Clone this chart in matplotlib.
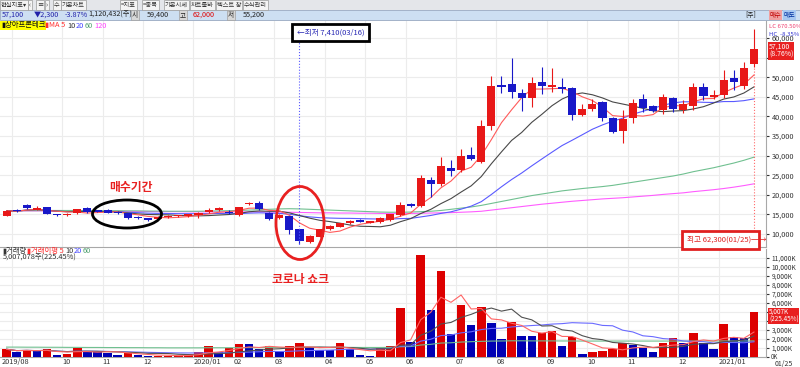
import numpy as np
import pandas as pd
import matplotlib
matplotlib.use('Agg')
import matplotlib.pyplot as plt
from matplotlib.patches import Rectangle, Ellipse

plt.rcParams['font.family'] = ['Noto Sans CJK KR', 'DejaVu Sans']

# weekly candles, 2019-08-26 .. 2021-01-25
dates = pd.date_range('2019-08-26', '2021-01-25', freq='W-MON')
opens = [14700, 16000, 17400, 16200, 16900, 15000, 14900, 15300, 16550, 15900,
         16100, 15700, 15280, 14250, 14000, 13825, 14250, 14500, 14600, 14850,
         15530, 16100, 15700, 14850, 17570, 17800, 15430, 14160, 14600, 11270,
         7900, 9320, 11200, 11870, 12720, 13570, 12900, 13140, 13570, 14850,
         17570, 17200, 23770, 22750, 26900, 26300, 30100, 28430, 37600, 48000,
         48200, 45870, 44600, 48700, 47600, 47600, 47200, 40350, 41800, 43740,
         39660, 36350, 39500, 44350, 42700, 41600, 44600, 41600, 42650, 47400,
         45000, 45450, 49700, 47750, 53300]
highs = [16200, 16300, 17600, 17100, 17000, 15200, 15300, 16500, 16800, 16100,
         16300, 15900, 15400, 14500, 14200, 14500, 14800, 14900, 15200, 15600,
         16600, 17000, 16000, 17000, 18200, 18300, 15600, 15000, 14700, 11300,
         9700, 11400, 12300, 12900, 13600, 13800, 13400, 14300, 15200, 18100,
         17900, 25000, 24600, 29700, 28900, 31600, 32100, 39100, 50400, 50400,
         55000, 46900, 50100, 52500, 52300, 49700, 47600, 43200, 44400, 44000,
         39900, 41600, 44350, 45600, 43000, 45700, 45000, 44200, 48400, 48400,
         46800, 51800, 51800, 53800, 62300]
lows = [14500, 15600, 16400, 16100, 15000, 14600, 14700, 15100, 15300, 15500,
        15300, 15100, 13800, 13900, 13400, 13700, 14100, 14300, 14400, 14000,
        15300, 15900, 15100, 14600, 17300, 16000, 13500, 13900, 10000, 7410,
        7700, 9200, 11000, 11700, 12500, 13000, 12700, 12900, 13400, 14700,
        16900, 16900, 19500, 22300, 24850, 25800, 28800, 28000, 36500, 45900,
        44800, 41450, 42400, 45600, 46300, 46000, 39200, 40200, 41500, 38800,
        35800, 33300, 38240, 41200, 41000, 40550, 41000, 40800, 41630, 44200,
        44500, 44800, 46740, 47100, 52700]
closes = [15900, 15800, 16600, 16700, 15100, 14800, 15000, 16300, 15530, 15700,
          15430, 15280, 14000, 14100, 13600, 14335, 14600, 14650, 15000, 15280,
          16100, 16700, 15300, 16800, 17980, 16300, 13750, 14850, 11000, 8300,
          9490, 11200, 12040, 12720, 13300, 13140, 13200, 14000, 15000, 17400,
          17140, 24200, 22750, 27340, 26070, 29900, 29100, 37600, 47800, 47600,
          46300, 44600, 48600, 47800, 48000, 46900, 40350, 41900, 43150, 39500,
          36100, 39250, 43300, 42200, 41430, 45000, 41800, 43070, 47400, 45200,
          45450, 49300, 48700, 52300, 57100]
ma60 = [15900, 15900, 15950, 15950, 16000, 16000, 16000, 16000, 16000, 16000,
        15950, 15950, 15900, 15900, 15850, 15850, 15800, 15800, 15800, 15800,
        15850, 15900, 15950, 16000, 16100, 16200, 16300, 16400, 16450, 16400,
        16300, 16200, 16100, 16000, 15900, 15800, 15700, 15600, 15550, 15550,
        15600, 15700, 15800, 16000, 16300, 16600, 16900, 17300, 17800, 18300,
        18800, 19300, 19800, 20200, 20600, 21000, 21300, 21600, 21850, 22100,
        22400, 22800, 23200, 23600, 24000, 24400, 24800, 25300, 25900, 26400,
        26900, 27500, 28100, 28800, 29600]
ma120 = [15900, 15900, 15900, 15900, 15900, 15900, 15850, 15850, 15850, 15850,
         15800, 15800, 15800, 15750, 15750, 15700, 15700, 15700, 15650, 15650,
         15650, 15650, 15650, 15650, 15650, 15650, 15600, 15600, 15550, 15500,
         15450, 15400, 15400, 15350, 15350, 15300, 15300, 15250, 15250, 15250,
         15250, 15300, 15350, 15400, 15450, 15550, 15650, 15800, 16100, 16400,
         16700, 17000, 17300, 17600, 17850, 18100, 18350, 18550, 18750, 18950,
         19100, 19250, 19450, 19650, 19850, 20100, 20300, 20500, 20800, 21050,
         21300, 21600, 21950, 22350, 22800]
# volume in thousand shares
volumes = [860, 560, 780, 630, 860, 220, 300, 960, 670, 520,
           480, 220, 410, 190, 110, 140, 150, 160, 300, 520,
           1220, 590, 960, 1440, 1400, 890, 1220, 590, 1220, 1520,
           1070, 780, 740, 1520, 860, 220, 110, 1070, 1220, 5400,
           1700, 11330, 5220, 9560, 2560, 5780, 3560, 5520, 3740, 2000,
           3930, 2330, 2300, 2700, 2890, 1220, 2260, 300, 590, 700,
           890, 1520, 1330, 1030, 590, 1520, 2150, 1590, 2700, 1520,
           890, 3630, 2190, 2150, 5007]
vol_ma60 = [1100, 1100, 1090, 1090, 1080, 1080, 1070, 1070, 1060, 1060,
            1050, 1050, 1040, 1040, 1030, 1030, 1020, 1020, 1020, 1020,
            1030, 1030, 1030, 1040, 1040, 1040, 1050, 1050, 1050, 1060,
            1060, 1060, 1060, 1070, 1070, 1060, 1060, 1060, 1070, 1140,
            1160, 1330, 1410, 1550, 1580, 1660, 1700, 1740, 1770, 1780,
            1800, 1800, 1790, 1790, 1790, 1780, 1780, 1770, 1770, 1770,
            1770, 1770, 1770, 1770, 1770, 1770, 1770, 1770, 1775, 1775,
            1775, 1780, 1780, 1780, 1785]

price_ticks = list(range(10000, 60001, 5000))
vol_ticks = list(range(0, 11001, 1000))
# tick labels hidden under the current-value boxes
price_hidden = [55000]
vol_hidden = [0, 4000, 5000]

RED = '#e81818'
BLUE = '#1818c8'
VRED = '#dd0000'
VBLUE = '#0000b4'
GRID = '#ececec'

W, H = 800, 367
def fx(px):
    return px / W
def fy(py):
    return 1 - py / H

fig = plt.figure(figsize=(8, 3.67), dpi=100)
ax = fig.add_axes([0, fy(247), 766 / W, (247 - 21) / H])
axv = fig.add_axes([0, fy(357), 766 / W, (357 - 249) / H])

n = len(closes)
idx = np.arange(n)
o = np.array(opens); hi = np.array(highs); lo = np.array(lows); c = np.array(closes)
v = np.array(volumes)

# month grid positions
month_pos = []
month_lab = []
for i in range(1, n):
    if dates[i].month != dates[i - 1].month:
        month_pos.append(i - 0.5)
        if dates[i].month == 1:
            month_lab.append(dates[i].strftime('%Y/%m'))
        else:
            month_lab.append(dates[i].strftime('%m'))
grid_pos = month_pos[:]
tick_pos = [-0.5] + month_pos[1:]
tick_lab = [dates[0].strftime('%Y/%m')] + month_lab[1:]

for a in (ax, axv):
    a.set_xlim(-0.653, 75.19)
    for gx in grid_pos:
        a.axvline(gx, color=GRID, lw=0.8, zorder=0)
    for s in ('top', 'left'):
        a.spines[s].set_visible(False)
    for s in ('right', 'bottom'):
        a.spines[s].set_color('#a8a8a8')
        a.spines[s].set_linewidth(0.8)

# price panel
ax.set_ylim(6684, 64336)
for py in price_ticks:
    ax.axhline(py, color=GRID, lw=0.8, zorder=0)
up = c >= o
col = np.where(up, RED, BLUE)
ax.vlines(idx, lo, hi, colors=col, lw=0.8, zorder=3)
ax.bar(idx, np.maximum(np.abs(c - o), 300), bottom=np.minimum(o, c), width=0.8,
       color=col, linewidth=0, zorder=4)
cs = pd.Series(closes)
ax.plot(idx, ma120, color='#ff5cff', lw=0.8, zorder=2)
ax.plot(idx, ma60, color='#70c090', lw=0.8, zorder=2)
ax.plot(idx, cs.rolling(20, min_periods=1).mean(), color='#5a5aff', lw=0.8, zorder=2)
ax.plot(idx, cs.rolling(10, min_periods=1).mean(), color='#484848', lw=0.8, zorder=2)
ax.plot(idx, cs.rolling(5, min_periods=1).mean(), color='#ff5a5a', lw=0.8, zorder=2)
ax.yaxis.tick_right()
ax.set_yticks(price_ticks)
ax.set_yticklabels(['' if t in price_hidden else '{:,}'.format(t) for t in price_ticks])
ax.tick_params(axis='y', labelsize=5.3, length=2, pad=2, colors='#333333')
ax.set_xticks([])

# lowest / highest markers
ilow = int(np.argmin(lo))
ax.vlines(ilow, lo[ilow], 10000 + (234 - 33) * 255.1, colors='#5a5aff', lw=0.8,
          linestyles=':', zorder=5)
ihigh = int(np.argmax(hi))
ax.vlines(ihigh, 10000 - (240 - 234) * 255.1, lo[ihigh], colors='#ff6a6a', lw=0.8,
          linestyles=':', zorder=5)

# volume panel
axv.set_ylim(0, 12000)
for vy in vol_ticks:
    axv.axhline(vy, color=GRID, lw=0.8, zorder=0)
vcol = [VRED] + [VRED if v[i] > v[i - 1] else VBLUE for i in range(1, n)]
axv.bar(idx, v, width=0.84, color=vcol, linewidth=0, zorder=3)
vs = pd.Series(volumes)
axv.plot(idx, vol_ma60, color='#70c090', lw=0.8, zorder=4)
axv.plot(idx, vs.rolling(20, min_periods=1).mean(), color='#6a6aff', lw=0.8, zorder=4)
axv.plot(idx, vs.rolling(10, min_periods=1).mean(), color='#505050', lw=0.8, zorder=4)
axv.plot(idx, vs.rolling(5, min_periods=1).mean(), color='#ff6464', lw=0.8, zorder=4)
axv.yaxis.tick_right()
axv.set_yticks(vol_ticks)
axv.set_yticklabels(['' if t in vol_hidden else '{:,}K'.format(t) for t in vol_ticks])
axv.tick_params(axis='y', labelsize=4.8, length=2, pad=2, colors='#333333')
axv.set_xticks(tick_pos)
axv.set_xticklabels(tick_lab, ha='left')
axv.tick_params(axis='x', labelsize=5.3, length=0, pad=1, colors='#333333')
# zero label sits just above the date strip
fig.text(fx(771), fy(356.6), '0K', fontsize=4.4, va='center', color='#333333')

# header bars
fig.add_artist(Rectangle((0, fy(10)), 1, 10 / H, transform=fig.transFigure,
                         facecolor='#e4e6ea', edgecolor='none'))
fig.add_artist(Rectangle((0, fy(20)), 1, 10 / H, transform=fig.transFigure,
                         facecolor='#cddff2', edgecolor='#98a8c0', lw=0.6))
buttons = [(1, '현실지표▾'), (29, '‹'), (37, '≡'), (46, '›'), (54, '수'),
           (62, '기본차트'), (121, '=지표'), (143, '=종목'), (165, '기본시세'),
           (191, '차트툴바'), (217, '텍스트 창'), (244, '수식관리')]
for bx, bt in buttons:
    fig.text(fx(bx), fy(5), bt, fontsize=4.5, va='center', ha='left', color='#333333',
             bbox=dict(boxstyle='square,pad=0.12', fc='#f4f4f4', ec='#9a9a9a', lw=0.5))
row2 = [(2, '57,100', '#2020a8'), (34, '▼2,300', '#2020a8'), (65, '-3.87%', '#2020a8'),
        (88, '1,120,432(주)', '#222222'), (147, '59,400', '#222222'),
        (193, '62,000', '#e00000'), (243, '55,200', '#222222')]
for tx, tt, tc in row2:
    fig.text(fx(tx), fy(15), tt, fontsize=5.2, va='center', ha='left', color=tc)
for tx, tt in [(132, '시'), (180, '고'), (228, '저')]:
    fig.text(fx(tx), fy(15), tt, fontsize=4.8, va='center', ha='left', color='#222222',
             bbox=dict(boxstyle='square,pad=0.2', fc='#d8d8d8', ec='#a0a0a0', lw=0.5))
fig.text(fx(745), fy(15), '[주]', fontsize=4.8, va='center', color='#222222')
fig.text(fx(770), fy(15), '매수', fontsize=4.6, va='center', color='#c00000',
         bbox=dict(boxstyle='square,pad=0.1', fc='#f0a0a0', ec='none'))
fig.text(fx(784), fy(15), '매도', fontsize=4.6, va='center', color='#0030a0',
         bbox=dict(boxstyle='square,pad=0.1', fc='#a8c8f0', ec='none'))

# price legend
fig.text(fx(1), fy(25.5), '▮상아프론테크', fontsize=5.3, va='center', color='#111111',
         bbox=dict(boxstyle='square,pad=0.1', fc='#ffff00', ec='none'))
for lx, lt, lc in [(45, '▮MA 5', '#ff3030'), (67, '10', '#333333'), (76, '20', '#4040ff'),
                   (85, '60', '#50a070'), (94, '120', '#ff40ff')]:
    fig.text(fx(lx), fy(25.5), lt, fontsize=5.3, va='center', color=lc)

# volume legend
fig.text(fx(2), fy(251), '▮거래량', fontsize=5.3, va='center', color='#333333')
for lx, lt, lc in [(27, '▮거래이평 5', '#ff3030'), (65, '10', '#333333'),
                   (74, '20', '#4040ff'), (83, '60', '#50a070')]:
    fig.text(fx(lx), fy(251), lt, fontsize=5.3, va='center', color=lc)
fig.text(fx(3), fy(257.5), '5,007,078주(225.45%)', fontsize=5.3, va='center',
         color='#333333')

# right side info
fig.text(fx(769), fy(27), 'LC 670.50%', fontsize=4.3, va='center', color='#f04070')
fig.text(fx(769), fy(34), 'HC  -8.35%', fontsize=4.3, va='center', color='#3030d0')
fig.text(fx(769), fy(51), '57,100\n(8.76%)', fontsize=5, va='center', ha='left',
         color='white', linespacing=0.95,
         bbox=dict(boxstyle='square,pad=0.12', fc='#e82020', ec='none'))
fig.text(fx(769), fy(316), '5,007K\n(225.45%)', fontsize=4.6, va='center', ha='left',
         color='white', linespacing=0.95,
         bbox=dict(boxstyle='square,pad=0.08', fc='#e82020', ec='none'))
fig.text(fx(775), fy(364), '01/25', fontsize=5, va='center', color='#333333')

# annotation boxes
fig.add_artist(Rectangle((fx(292), fy(41)), 77 / W, 17 / H, transform=fig.transFigure,
                         facecolor='white', edgecolor='black', lw=2, zorder=6))
fig.text(fx(297), fy(32.5), '←최저 7,410(03/16)', fontsize=5.5, va='center',
         color='#2828b4', zorder=7)
fig.add_artist(Rectangle((fx(682), fy(249)), 77 / W, 18 / H, transform=fig.transFigure,
                         facecolor='white', edgecolor='#e02020', lw=2, zorder=6))
fig.text(fx(687), fy(240), '최고 62,300(01/25)─→', fontsize=5.5, va='center',
         color='#e02020', zorder=7)

# hand-drawn highlights
fig.add_artist(Ellipse((fx(127), fy(214)), 69 / W, 28 / H, transform=fig.transFigure,
                       fill=False, edgecolor='black', lw=2, zorder=6))
fig.add_artist(Ellipse((fx(300), fy(223)), 48 / W, 73 / H, transform=fig.transFigure,
                       fill=False, edgecolor='#e82020', lw=2, zorder=6))
fig.text(fx(131), fy(187), '매수기간', fontsize=8.5, fontweight='bold', ha='center',
         va='center', color='#e82020')
fig.text(fx(301), fy(279.5), '코로나 쇼크', fontsize=8.5, fontweight='bold', ha='center',
         va='center', color='#e82020')

fig.savefig('out.png', dpi=100)
